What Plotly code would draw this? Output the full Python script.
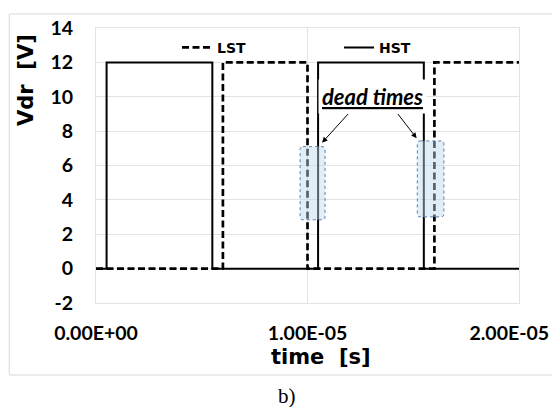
import plotly.graph_objects as go

# ---- data (time in seconds, voltage in volts) ----
hst_t = [0, 0.5e-6, 0.5e-6, 5.5e-6, 5.5e-6, 10.5e-6, 10.5e-6, 15.5e-6, 15.5e-6, 20e-6]
hst_v = [0, 0, 12, 12, 0, 0, 12, 12, 0, 0]
lst_t = [0, 6e-6, 6e-6, 10e-6, 10e-6, 16e-6, 16e-6, 20e-6]
lst_v = [0, 0, 12, 12, 0, 0, 12, 12]

x_tickvals = [0, 1e-5, 2e-5]
x_ticktext = ["0.00E+00", "1.00E-05", "2.00E-05"]
y_tickvals = [-2, 0, 2, 4, 6, 8, 10, 12, 14]
y_ticktext = ["-2", "0", "2", "4", "6", "8", "10", "12", "14"]

# dead-time highlight boxes: (x0, x1, y0, y1) in data units
dead_boxes = [(9.65e-6, 10.83e-6, 2.84, 7.10), (15.19e-6, 16.45e-6, 3.01, 7.43)]
# arrows: (head_x, head_y, tail_x, tail_y)
dead_arrows = [(10.69e-6, 7.33, 11.98e-6, 9.08), (15.16e-6, 7.59, 14.22e-6, 9.08)]

# keep the last tick label inside the page edge (trailing en spaces shift it left)
x_ticklabels = x_ticktext[:-1] + [x_ticktext[-1] + "\u2002\u2002"]

fig = go.Figure()
fig.add_trace(go.Scatter(x=lst_t, y=lst_v, mode="lines", name="LST",
                         line=dict(color="black", width=2.7, dash="7px,3.5px")))
fig.add_trace(go.Scatter(x=hst_t, y=hst_v, mode="lines", name="HST",
                         line=dict(color="black", width=2)))


def f(v):
    return f"{v:.10f}"


def rounded(x0, x1, y0, y1, rx=0.14e-6, ry=0.18):
    return (f"M{f(x0+rx)},{f(y1)} L{f(x1-rx)},{f(y1)} Q{f(x1)},{f(y1)} {f(x1)},{f(y1-ry)} "
            f"L{f(x1)},{f(y0+ry)} Q{f(x1)},{f(y0)} {f(x1-rx)},{f(y0)} "
            f"L{f(x0+rx)},{f(y0)} Q{f(x0)},{f(y0)} {f(x0)},{f(y0+ry)} "
            f"L{f(x0)},{f(y1-ry)} Q{f(x0)},{f(y1)} {f(x0+rx)},{f(y1)} Z")


shapes = []
for (x0, x1, y0, y1) in dead_boxes:
    shapes.append(dict(type="path", xref="x", yref="y", path=rounded(x0, x1, y0, y1),
                       fillcolor="rgba(189,215,238,0.45)",
                       line=dict(color="#5a7eaa", width=1, dash="dot"), layer="above"))
# outer chart frame (open on the right, it runs past the page edge)
shapes.append(dict(type="path", xref="paper", yref="paper",
                   path="M1.3,1.0509 L-0.205,1.0509 L-0.205,-0.2618 L1.3,-0.2618",
                   line=dict(color="#d9d9d9", width=1), layer="below"))

annotations = []
for (hx, hy, tx, ty) in dead_arrows:
    annotations.append(dict(x=hx, y=hy, ax=tx, ay=ty, xref="x", yref="y", axref="x", ayref="y",
                            text="", showarrow=True, arrowhead=2, arrowsize=1.1,
                            arrowwidth=1, arrowcolor="black"))
annotations.append(dict(x=13.07e-6, y=10.0, xref="x", yref="y", showarrow=False,
                        text="<b><i><u>dead times</u></i></b>", bgcolor="white", borderpad=3,
                        font=dict(family="Lato", size=22, color="black")))
annotations.append(dict(x=-0.1655, y=0.811, xref="paper", yref="paper", showarrow=False,
                        xanchor="center", yanchor="middle",
                        text="<b>Vdr\u00a0\u00a0[V]</b>", textangle=-90,
                        font=dict(family="DejaVu Sans", size=21, color="black")))
annotations.append(dict(x=0.532, y=-0.195, xref="paper", yref="paper", showarrow=False,
                        xanchor="center", yanchor="middle",
                        text="<b>time\u00a0\u00a0[s]</b>",
                        font=dict(family="DejaVu Sans", size=21, color="black")))
annotations.append(dict(x=0.451, y=-0.338, xref="paper", yref="paper", showarrow=False,
                        xanchor="center", yanchor="middle",
                        text="b)", font=dict(family="Liberation Serif", size=21, color="black")))

fig.update_layout(
    width=544, height=399,
    margin=dict(l=88, r=33, t=20, b=104, autoexpand=False),
    paper_bgcolor="white", plot_bgcolor="white",
    shapes=shapes, annotations=annotations,
    showlegend=True,
    legend=dict(orientation="h", x=0.1915, xanchor="left", y=0.928, yanchor="middle",
                bgcolor="rgba(0,0,0,0)", entrywidth=117, entrywidthmode="pixels",
                font=dict(family="DejaVu Sans", size=14, color="black", weight="bold")),
    xaxis=dict(range=[0, 2e-5], tickvals=x_tickvals, ticktext=x_ticklabels,
               showgrid=True, gridcolor="#e3e3e3", gridwidth=1, zeroline=False,
               showline=True, linecolor="#e3e3e3", mirror=True, ticks="",
               automargin=False,
               ticklabelstandoff=13, ticklabeloverflow="allow",
               tickfont=dict(family="Lato", size=19.5, color="black", weight="bold")),
    yaxis=dict(range=[-2, 14], tickvals=y_tickvals, ticktext=y_ticktext,
               showgrid=True, gridcolor="#e3e3e3", gridwidth=1, zeroline=False,
               showline=True, linecolor="#e3e3e3", mirror=True, ticks="",
               automargin=False,
               ticklabelstandoff=18,
               tickfont=dict(family="Lato", size=19.5, color="black", weight="bold")),
)

fig.write_html("out.html")
